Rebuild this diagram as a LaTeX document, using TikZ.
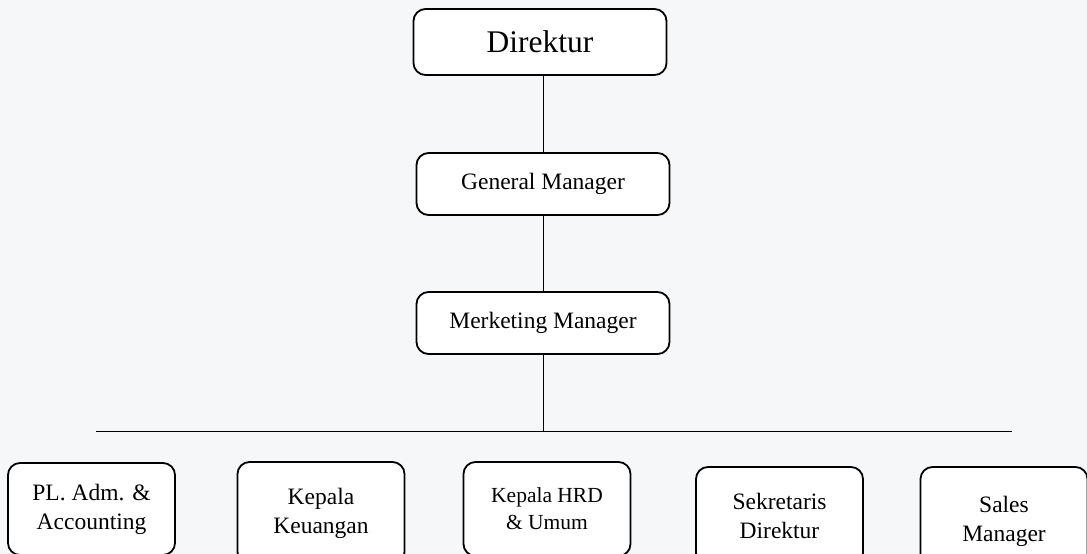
\documentclass[tikz,border=0pt]{standalone}
\usepackage{fontspec}
\setmainfont{Liberation Serif}
\definecolor{paper}{RGB}{246,247,249}
\begin{document}
\begin{tikzpicture}[x=1pt,y=-1pt,
  box/.style={draw, line width=1.8pt, rounded corners=12pt, fill=white,
    align=center, inner sep=0pt, minimum width=253pt},
  staff/.style={box, minimum width=167pt, font=\fontsize{23.5}{29}\selectfont},
  link/.style={line width=1pt}]
\fill[paper] (0,0) rectangle (1087,554);
\useasboundingbox (0,0) rectangle (1087,554);
% top of the chart
\node[box, minimum height=66pt, font=\fontsize{31.5}{36}\selectfont] (dir) at (540,42) {Direktur};
\node[box, minimum height=62pt, font=\fontsize{23.5}{28}\selectfont] (gm) at (543,184) {General Manager};
\node[box, minimum height=62pt, font=\fontsize{23.5}{28}\selectfont] (mm) at (543,323) {Merketing Manager};
\draw[link] (dir.south -| gm) -- (gm.north);
\draw[link] (gm) -- (mm);
% horizontal line
\coordinate (busL) at (96,431);
\coordinate (busR) at (1012,431);
\draw[link] (busL) -- (busR);
\draw[link] (mm.south) -- (mm.south |- busL);
% staff boxes (bottom edges run off the page)
\node[staff, minimum height=92pt] (adm) at (91.5,509) {PL. Adm. \&\\Accounting};
\node[staff, minimum height=102pt] (keu) at (321,513) {Kepala\\Keuangan};
\node[staff, minimum height=94pt, font=\fontsize{21.5}{27}\selectfont] (hrd) at (547,509) {Kepala HRD\\\& Umum};
\node[staff, minimum height=98pt] (sek) at (779.5,516) {Sekretaris\\Direktur};
\node[staff, minimum height=108pt] (sal) at (1004,521) {Sales\\Manager};
\end{tikzpicture}
\end{document}
